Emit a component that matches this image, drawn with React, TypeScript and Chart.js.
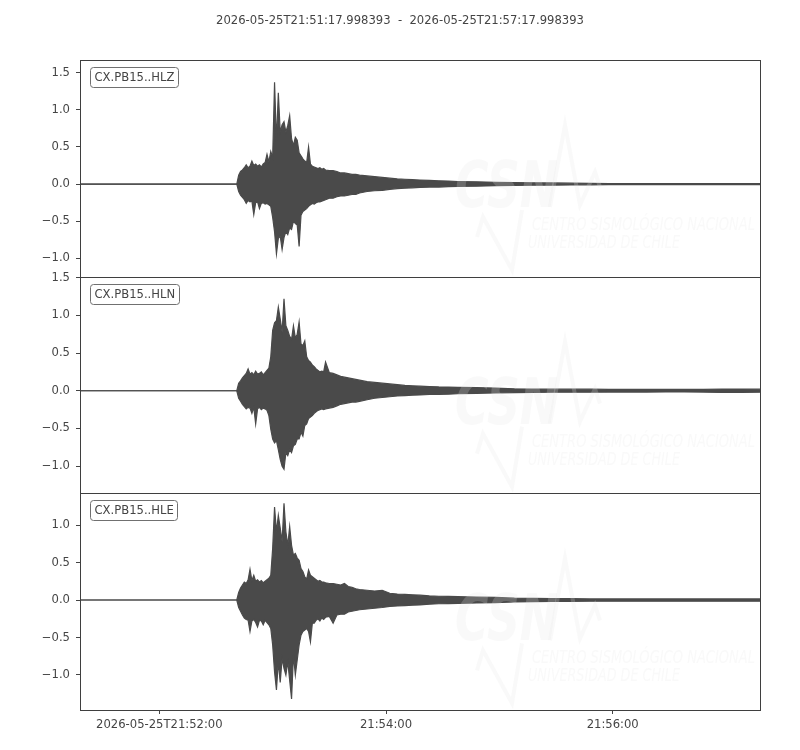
import { useEffect, useRef } from "react"
import { Chart, registerables, type Plugin } from "chart.js"

Chart.register(...registerables)

const TITLE = "2026-05-25T21:51:17.998393  -  2026-05-25T21:57:17.998393"
const TRACE_IDS = ["CX.PB15..HLZ", "CX.PB15..HLN", "CX.PB15..HLE"]

// seconds after 2026-05-25T21:51:17.998393
const TIME_S = [
  0, 83,
  84, 85, 86, 87, 88, 89, 90, 91, 92, 93,
  94, 95, 96, 97, 98, 99, 100, 101, 102, 103,
  104, 105, 106, 107, 108, 109, 110, 111, 112, 113,
  114, 115, 116, 117, 118, 119, 120, 121, 122, 123,
  124, 125, 126, 127, 128, 129, 130,
  132, 134, 136, 138, 140, 142, 144, 146, 148,
  152, 156, 160, 164, 168, 172, 176, 180,
  185, 190, 195, 200,
  210, 220, 230, 240, 250, 260, 270, 280, 290, 300,
  310, 320, 330, 340, 350, 360,
]

const X_TICK_S = [42, 162, 282]
const X_TICK_LABELS = ["2026-05-25T21:52:00", "21:54:00", "21:56:00"]
const Y_TICKS = [-1.0, -0.5, 0.0, 0.5, 1.0, 1.5]

// envelope (max / min) of each trace
const HLZ_MAX = [
  0, 0,
  0.12, 0.17, 0.19, 0.22, 0.26, 0.22, 0.24, 0.31, 0.25, 0.27,
  0.24, 0.26, 0.23, 0.27, 0.29, 0.40, 0.30, 0.44, 0.36, 1.37,
  0.57, 1.23, 0.70, 0.80, 0.84, 0.70, 0.79, 0.92, 0.61, 0.52,
  0.63, 0.59, 0.42, 0.38, 0.34, 0.31, 0.29, 0.50, 0.27, 0.24,
  0.23, 0.22, 0.21, 0.22, 0.20, 0.21, 0.19,
  0.18, 0.18, 0.17, 0.15, 0.15, 0.14, 0.13, 0.13, 0.12,
  0.11, 0.10, 0.09, 0.08, 0.07, 0.065, 0.06, 0.055,
  0.05, 0.045, 0.04, 0.035,
  0.03, 0.025, 0.02, 0.018, 0.015, 0.012, 0.01, 0.008, 0.008, 0.008,
  0.008, 0.008, 0.008, 0.008, 0.008, 0.008,
]
const HLZ_MIN = [
  0, 0,
  -0.10, -0.15, -0.18, -0.21, -0.26, -0.22, -0.24, -0.23, -0.41, -0.25,
  -0.24, -0.33, -0.26, -0.25, -0.27, -0.26, -0.28, -0.30, -0.45, -0.64,
  -0.94, -0.73, -0.70, -0.88, -0.72, -0.64, -0.68, -0.59, -0.61, -0.50,
  -0.53, -0.55, -0.84, -0.42, -0.37, -0.35, -0.33, -0.30, -0.28, -0.26,
  -0.27, -0.25, -0.24, -0.24, -0.23, -0.22, -0.21,
  -0.19, -0.19, -0.17, -0.16, -0.16, -0.15, -0.14, -0.14, -0.12,
  -0.10, -0.09, -0.085, -0.07, -0.06, -0.055, -0.05, -0.045,
  -0.04, -0.04, -0.035, -0.03,
  -0.028, -0.022, -0.018, -0.016, -0.014, -0.012, -0.01, -0.008, -0.008, -0.008,
  -0.008, -0.008, -0.008, -0.008, -0.008, -0.008,
]
const HLN_MAX = [
  0, 0,
  0.10, 0.13, 0.17, 0.20, 0.23, 0.29, 0.22, 0.24, 0.21, 0.26,
  0.22, 0.23, 0.25, 0.21, 0.24, 0.27, 0.30, 0.45, 0.80, 0.90,
  0.93, 1.11, 0.95, 0.78, 1.22, 0.86, 0.80, 0.72, 0.68, 0.86,
  0.70, 0.75, 0.91, 0.62, 0.60, 0.66, 0.45, 0.40, 0.38, 0.34,
  0.32, 0.29, 0.27, 0.25, 0.26, 0.25, 0.38,
  0.24, 0.23, 0.21, 0.19, 0.18, 0.17, 0.16, 0.15, 0.14,
  0.12, 0.11, 0.10, 0.09, 0.08, 0.07, 0.065, 0.06,
  0.055, 0.05, 0.048, 0.045,
  0.04, 0.035, 0.025, 0.022, 0.02, 0.02, 0.02, 0.018, 0.018, 0.018,
  0.017, 0.017, 0.018, 0.022, 0.022, 0.02,
]
const HLN_MIN = [
  0, 0,
  -0.10, -0.14, -0.18, -0.21, -0.24, -0.22, -0.23, -0.30, -0.22, -0.44,
  -0.24, -0.22, -0.25, -0.23, -0.24, -0.26, -0.33, -0.51, -0.64, -0.69,
  -0.66, -0.78, -0.91, -1.00, -1.04, -0.82, -0.86, -0.78, -0.82, -0.73,
  -0.71, -0.64, -0.64, -0.55, -0.60, -0.46, -0.44, -0.37, -0.35, -0.33,
  -0.30, -0.28, -0.26, -0.25, -0.24, -0.25, -0.24,
  -0.23, -0.22, -0.20, -0.18, -0.17, -0.16, -0.15, -0.15, -0.14,
  -0.12, -0.10, -0.09, -0.08, -0.07, -0.065, -0.06, -0.055,
  -0.05, -0.048, -0.045, -0.04,
  -0.035, -0.03, -0.025, -0.022, -0.02, -0.02, -0.02, -0.018, -0.018, -0.018,
  -0.017, -0.017, -0.018, -0.022, -0.022, -0.02,
]
const HLE_MAX = [
  0, 0,
  0.10, 0.16, 0.20, 0.24, 0.22, 0.27, 0.41, 0.26, 0.33, 0.25,
  0.27, 0.24, 0.26, 0.23, 0.25, 0.27, 0.29, 0.33, 0.69, 1.24,
  0.91, 1.13, 0.96, 0.78, 1.29, 0.91, 0.73, 0.98, 0.73, 0.60,
  0.62, 0.56, 0.53, 0.42, 0.38, 0.31, 0.28, 0.40, 0.33, 0.31,
  0.29, 0.27, 0.25, 0.26, 0.24, 0.24, 0.23,
  0.22, 0.22, 0.21, 0.20, 0.22, 0.18, 0.17, 0.15, 0.14,
  0.13, 0.12, 0.13, 0.09, 0.08, 0.075, 0.07, 0.065,
  0.055, 0.05, 0.048, 0.045,
  0.04, 0.035, 0.025, 0.022, 0.02, 0.018, 0.015, 0.015, 0.015, 0.015,
  0.015, 0.015, 0.015, 0.015, 0.015, 0.015,
]
const HLE_MIN = [
  0, 0,
  -0.10, -0.15, -0.20, -0.24, -0.26, -0.27, -0.42, -0.28, -0.26, -0.30,
  -0.36, -0.27, -0.28, -0.33, -0.27, -0.30, -0.33, -0.38, -0.60, -0.96,
  -1.20, -0.82, -1.10, -0.78, -0.91, -1.00, -0.82, -1.07, -1.32, -0.73,
  -1.00, -0.80, -0.60, -0.47, -0.42, -0.40, -0.38, -0.42, -0.56, -0.31,
  -0.31, -0.27, -0.25, -0.28, -0.24, -0.26, -0.23,
  -0.22, -0.31, -0.20, -0.19, -0.19, -0.16, -0.15, -0.14, -0.13,
  -0.12, -0.11, -0.10, -0.085, -0.08, -0.075, -0.07, -0.065,
  -0.055, -0.05, -0.048, -0.045,
  -0.04, -0.035, -0.025, -0.022, -0.02, -0.018, -0.015, -0.015, -0.015, -0.015,
  -0.015, -0.015, -0.015, -0.015, -0.015, -0.015,
]

// y limits of each panel, top to bottom
const Y_LIMITS = [
  [-1.246, 1.67],
  [-1.36, 1.512],
  [-1.467, 1.423],
]

const INK = "#444444"
const TRACE = "#4a4a4a"
const FONT = "DejaVu Sans"
const FONT_SIZE = 11.6
const AXIS_IDS = ["yZ", "yN", "yE"]

// watermark wave, offsets from panel left/top
const WAVE_A = [[397, 177], [403, 157], [432, 210], [442, 150]]
const WAVE_B = [[470, 147], [485, 65], [500, 145], [515, 112], [520, 127]]

function fitText(ctx: CanvasRenderingContext2D, text: string, x: number, y: number, width: number, font: string) {
  ctx.font = font
  const w = ctx.measureText(text).width
  ctx.save()
  ctx.translate(x, y)
  ctx.scale(width / w, 1)
  ctx.fillText(text, 0, 0)
  ctx.restore()
}

const panelsPlugin: Plugin<"line"> = {
  id: "panels",
  afterDatasetsDraw(chart) {
    const { ctx, chartArea } = chart
    ctx.save()
    ctx.fillStyle = "rgba(228,228,228,0.22)"
    ctx.strokeStyle = "rgba(228,228,228,0.22)"
    ctx.lineWidth = 4
    ctx.lineJoin = "miter"
    ctx.textBaseline = "alphabetic"
    ctx.textAlign = "left"
    for (const id of AXIS_IDS) {
      const top = chart.scales[id].top
      const left = chartArea.left
      fitText(ctx, "CSN", left + 375, top + 147, 103, `italic bold 64px ${FONT}`)
      fitText(ctx, "CENTRO SISMOLÓGICO NACIONAL", left + 452, top + 170, 223, `italic 17px ${FONT}`)
      fitText(ctx, "UNIVERSIDAD DE CHILE", left + 448, top + 188, 152, `italic 17px ${FONT}`)
      for (const wave of [WAVE_A, WAVE_B]) {
        ctx.beginPath()
        wave.forEach(([dx, dy], i) => {
          if (i === 0) ctx.moveTo(left + dx, top + dy)
          else ctx.lineTo(left + dx, top + dy)
        })
        ctx.stroke()
      }
    }
    ctx.restore()
  },
  afterDraw(chart) {
    const { ctx, chartArea } = chart
    ctx.save()
    // frames
    ctx.strokeStyle = "#3f3f3f"
    ctx.lineWidth = 1
    for (const id of AXIS_IDS) {
      const s = chart.scales[id]
      const x0 = Math.round(chartArea.left) + 0.5
      const x1 = Math.round(chartArea.right) + 0.5
      const y0 = Math.round(s.top) + 0.5
      const y1 = Math.round(s.bottom) + 0.5
      ctx.strokeRect(x0, y0, x1 - x0, y1 - y0)
    }
    // trace labels
    ctx.font = `${FONT_SIZE}px ${FONT}`
    ctx.textBaseline = "middle"
    ctx.textAlign = "left"
    AXIS_IDS.forEach((id, i) => {
      const top = Math.round(chart.scales[id].top)
      const w = ctx.measureText(TRACE_IDS[i]).width + 8
      const bx = Math.round(chartArea.left) + 10.5
      const by = top + 7.5
      ctx.beginPath()
      ctx.roundRect(bx, by, Math.round(w), 20, 3)
      ctx.fillStyle = "#ffffff"
      ctx.fill()
      ctx.strokeStyle = "#707070"
      ctx.stroke()
      ctx.fillStyle = INK
      ctx.fillText(TRACE_IDS[i], bx + 4, by + 10.5)
    })
    // title
    ctx.textAlign = "center"
    ctx.fillText(TITLE, chart.width / 2, 21)
    ctx.restore()
  },
}

function fmtY(v: number) {
  const s = Math.abs(v).toFixed(1)
  return v < 0 ? "\u2212" + s : s
}

function yScale(idx: number) {
  const [min, max] = Y_LIMITS[idx]
  return {
    type: "linear" as const,
    position: "left" as const,
    stack: "traces",
    stackWeight: 1,
    min,
    max,
    afterBuildTicks: (scale: any) => {
      scale.ticks = Y_TICKS.filter((v) => v >= min && v <= max).map((value) => ({ value }))
    },
    afterFit: (scale: any) => {
      scale.width = 80
    },
    grid: { drawOnChartArea: false, drawTicks: true, tickLength: 4, color: INK, lineWidth: 1 },
    border: { display: false },
    ticks: {
      autoSkip: false,
      padding: 6,
      color: INK,
      font: { family: FONT, size: FONT_SIZE },
      callback: (v: any) => fmtY(Number(v)),
    },
  }
}

function band(maxs: number[], mins: number[], axis: string) {
  const common = {
    yAxisID: axis,
    borderColor: TRACE,
    backgroundColor: TRACE,
    borderWidth: 1.2,
    pointRadius: 0,
    tension: 0,
  }
  return [
    { ...common, data: TIME_S.map((x, i) => ({ x, y: maxs[i] })), fill: false },
    { ...common, data: TIME_S.map((x, i) => ({ x, y: mins[i] })), fill: "-1" },
  ]
}

export default function App() {
  const canvasRef = useRef<HTMLCanvasElement>(null)
  const chartRef = useRef<Chart | null>(null)

  useEffect(() => {
    document.body.style.margin = "0"
    if (!canvasRef.current) return
    if (chartRef.current) chartRef.current.destroy()

    chartRef.current = new Chart(canvasRef.current, {
      type: "line",
      data: {
        datasets: [
          ...band(HLZ_MAX, HLZ_MIN, "yZ"),
          ...band(HLN_MAX, HLN_MIN, "yN"),
          ...band(HLE_MAX, HLE_MIN, "yE"),
        ] as any,
      },
      options: {
        animation: false,
        responsive: true,
        maintainAspectRatio: false,
        layout: { padding: { left: 0, right: 40, top: 60, bottom: 0 } },
        plugins: {
          legend: { display: false },
          tooltip: { enabled: false },
        },
        scales: {
          x: {
            type: "linear",
            position: "bottom",
            min: 0,
            max: 360,
            afterBuildTicks: (scale: any) => {
              scale.ticks = X_TICK_S.map((value) => ({ value }))
            },
            afterFit: (scale: any) => {
              scale.height = 40
            },
            grid: { drawOnChartArea: false, drawTicks: true, tickLength: 4, color: INK },
            border: { display: false },
            ticks: {
              autoSkip: false,
              maxRotation: 0,
              padding: 4,
              color: INK,
              font: { family: FONT, size: FONT_SIZE },
              callback: (_v: any, i: number) => X_TICK_LABELS[i],
            },
          },
          // last left axis is stacked on top
          yE: yScale(2),
          yN: yScale(1),
          yZ: yScale(0),
        } as any,
      },
      plugins: [panelsPlugin],
    })

    return () => {
      if (chartRef.current) {
        chartRef.current.destroy()
        chartRef.current = null
      }
    }
  }, [])

  return (
    <div style={{ position: "relative", width: 800, height: 750 }}>
      <canvas ref={canvasRef} />
    </div>
  )
}
